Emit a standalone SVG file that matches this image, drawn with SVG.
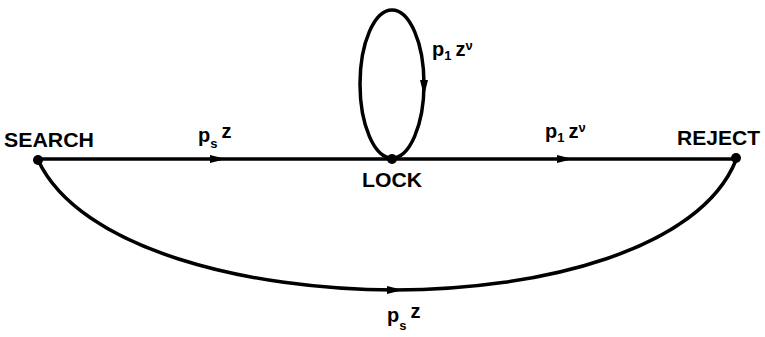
<svg xmlns="http://www.w3.org/2000/svg" width="765" height="337" viewBox="0 0 765 337">
<style>
.e{fill:none;stroke:#000;stroke-width:3.5}
.t{font-family:"Liberation Sans",Arial,sans-serif;font-weight:bold;font-size:20px;fill:#000}
.l{font-family:"Liberation Sans",Arial,sans-serif;font-weight:bold;font-size:20px;fill:#000}
.s{font-size:13px}
.a{fill:#000}
</style>
<rect width="765" height="337" fill="#fff"/>
<g id="connectors">
<line class="e" x1="38" y1="159" x2="736" y2="159"/>
<ellipse class="e" cx="392" cy="84" rx="32" ry="74"/>
<path class="e" d="M38,160 C80,250 250,290 395,290 C540,290 700,250 736,160"/>
<polygon class="a" points="210,155 226,159 210,163"/>
<polygon class="a" points="557,155 573,159 557,163"/>
<polygon class="a" points="420,80 424,96 428,80"/>
<polygon class="a" points="387,286 403,290 387,294"/>
</g>
<g id="search"><circle class="a" cx="38" cy="160" r="5"/><text class="t" x="4" y="147" textLength="90" lengthAdjust="spacingAndGlyphs">SEARCH</text></g>
<g id="lock"><circle class="a" cx="392" cy="159" r="5"/><text class="t" x="362" y="187" textLength="60" lengthAdjust="spacingAndGlyphs">LOCK</text></g>
<g id="reject"><circle class="a" cx="736" cy="158" r="5"/><text class="t" x="677" y="145" textLength="83" lengthAdjust="spacingAndGlyphs">REJECT</text></g>
<g id="labels">
<text class="l" x="198" y="142">p<tspan class="s" dy="6">s</tspan><tspan dy="-10" dx="4">z</tspan></text>
<text class="l" x="545" y="138">p<tspan class="s" dy="4">1</tspan><tspan dx="4" dy="-4">z</tspan><tspan class="s" dy="-6">ν</tspan></text>
<text class="l" x="432" y="56">p<tspan class="s" dy="4">1</tspan><tspan dx="4" dy="-4">z</tspan><tspan class="s" dy="-6">ν</tspan></text>
<text class="l" x="387" y="322">p<tspan class="s" dy="8">s</tspan><tspan dy="-12" dx="4">z</tspan></text>
</g>
</svg>
